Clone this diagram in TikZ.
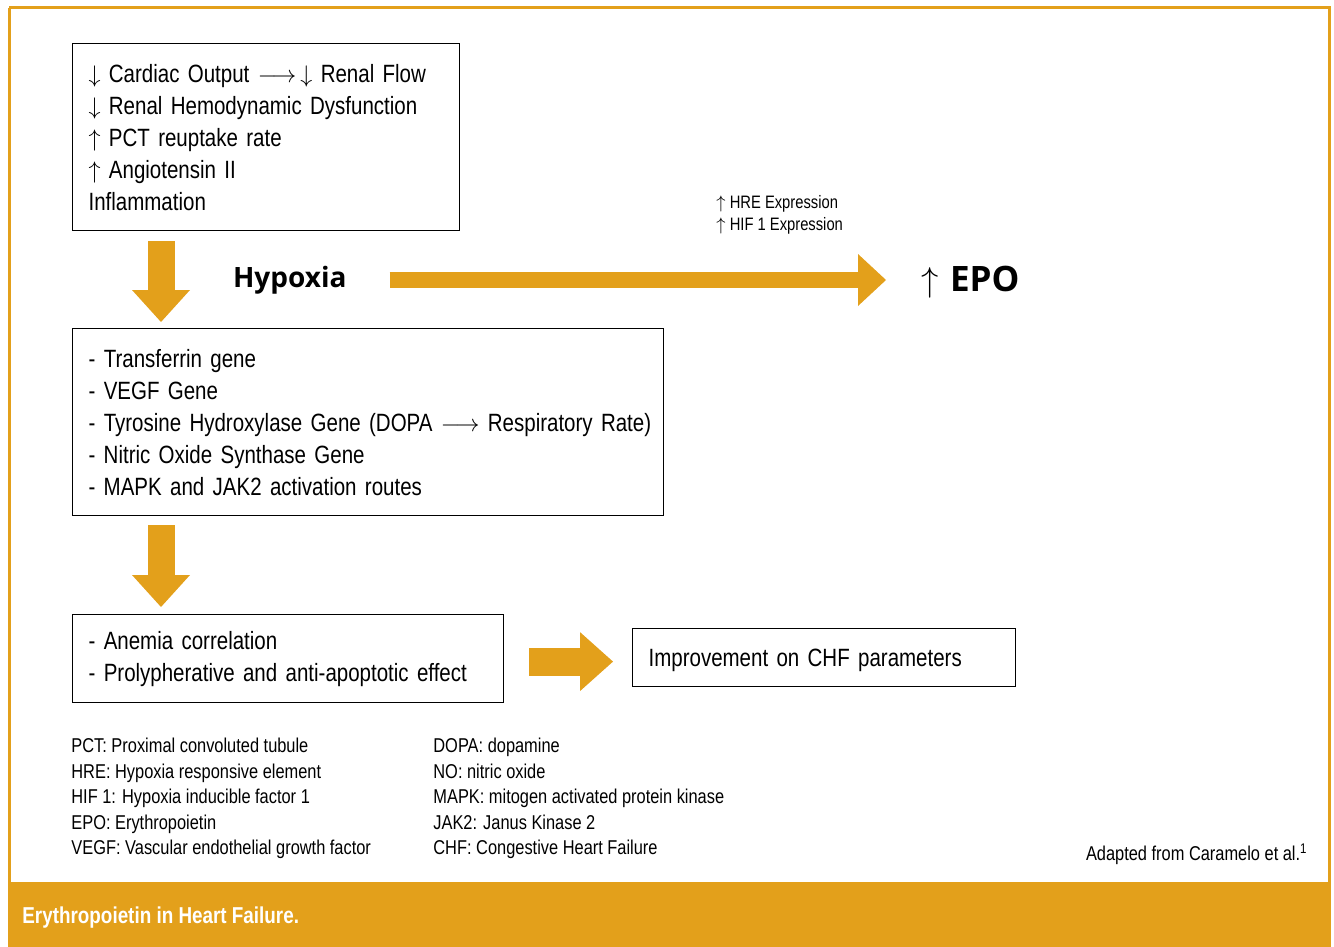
\documentclass[tikz,border=0pt]{standalone}
\usepackage{fontspec}
\setmainfont{Liberation Sans}[FakeStretch=0.82]
\newfontfamily\headfont{Open Sans}
\usetikzlibrary{arrows.meta,positioning}
\definecolor{epoorange}{RGB}{227,160,27}
\begin{document}
\begin{tikzpicture}[x=0.5pt, y=-0.5pt,
    box/.style={shape=rectangle, draw, color=black, line width=0.6pt, anchor=north west, align=left, inner xsep=8pt, font=\fontsize{12.5}{16}\selectfont},
    fatarrow/.style={draw=epoorange, line width=13.5pt, -{Triangle[length=16pt, width=29pt, line width=0pt, fill=epoorange]}},
    note/.style={anchor=north west, align=left, inner sep=0pt, font=\fontsize{10}{12.75}\selectfont}]
    \useasboundingbox (0,0) rectangle (1334,947);
    % frame and footer
    \draw[epoorange, line width=1.5pt] (9,8) -- (1329,8) -- (1329,882) (9,8) -- (9,882);
    \fill[epoorange] (8,882) rectangle (1331,947);
    \node[anchor=west, inner sep=0pt, text=white, font=\bfseries\fontsize{11.5}{13}\selectfont] (caption) at (22,918) {Erythropoietin in Heart Failure.};
    % boxes
    \node[box, minimum width=193.5pt, minimum height=93.5pt, text width=177.5pt] (causes) at (72,43)
        {$\downarrow$ Cardiac Output $\longrightarrow\,\downarrow$ Renal Flow\\
         $\downarrow$ Renal Hemodynamic Dysfunction\\
         $\uparrow$ PCT reuptake rate\\
         $\uparrow$ Angiotensin II\\
         Inflammation};
    \node[box, minimum width=295.5pt, minimum height=93.5pt, text width=279.5pt] (genes) at (72,328)
        {- Transferrin gene\\
         - VEGF Gene\\
         \mbox{- Tyrosine Hydroxylase Gene (DOPA $\longrightarrow$ Respiratory Rate)}\\
         - Nitric Oxide Synthase Gene\\
         - MAPK and JAK2 activation routes};
    \node[box, minimum width=215.5pt, minimum height=44pt, text width=199.5pt] (effects) at (72,614)
        {- Anemia correlation\\
         - Prolypherative and anti-apoptotic effect};
    \node[box, minimum width=191.5pt, minimum height=29pt, text width=175.5pt, text depth=0pt] (chf) at (632,628)
        {Improvement on CHF parameters};
    % hypoxia and EPO
    \node[anchor=west, font=\headfont\bfseries\fontsize{14}{16}\selectfont] (hypoxia) at (226,280) {Hypoxia};
    \node[anchor=west, font=\headfont\bfseries\fontsize{17.5}{20}\selectfont] (epo) at (914,282) {$\uparrow$\,\,EPO};
    \node[note, font=\fontsize{9}{11}\selectfont] (expr) at (716,195) {$\uparrow$ HRE Expression\\ $\uparrow$ HIF 1 Expression};
    % arrows
    \draw[fatarrow] ([shift={(89,10)}]causes.south west) -- ([shift={(89,-6)}]genes.north west);
    \draw[fatarrow] ([shift={(89,9)}]genes.south west) -- ([shift={(89,-7)}]effects.north west);
    \draw[fatarrow, line width=8pt, -{Triangle[length=14pt, width=26pt, line width=0pt, fill=epoorange]}] ([shift={(36,0)}]hypoxia.east) -- ([shift={(-28,0)}]hypoxia.east -| epo.west);
    \draw[fatarrow, line width=14pt, -{Triangle[length=16.5pt, width=29.5pt, line width=0pt, fill=epoorange]}] ([shift={(25,3)}]effects.east) -- ([shift={(-19,3)}]effects.east -| chf.west);
    % abbreviations
    \node[note] (abbrA) at (71,738) {PCT: Proximal convoluted tubule\\
        HRE: Hypoxia responsive element\\
        HIF 1: Hypoxia inducible factor 1\\
        EPO: Erythropoietin\\
        VEGF: Vascular endothelial growth factor};
    \node[note] (abbrB) at (433,738) {DOPA: dopamine\\
        NO: nitric oxide\\
        MAPK: mitogen activated protein kinase\\
        JAK2: Janus Kinase 2\\
        CHF: Congestive Heart Failure};
    \node[anchor=east, inner sep=0pt, font=\fontsize{10}{12}\selectfont] (source) at (1308,854) {Adapted from Caramelo et al.\textsuperscript{1}};
\end{tikzpicture}
\end{document}
